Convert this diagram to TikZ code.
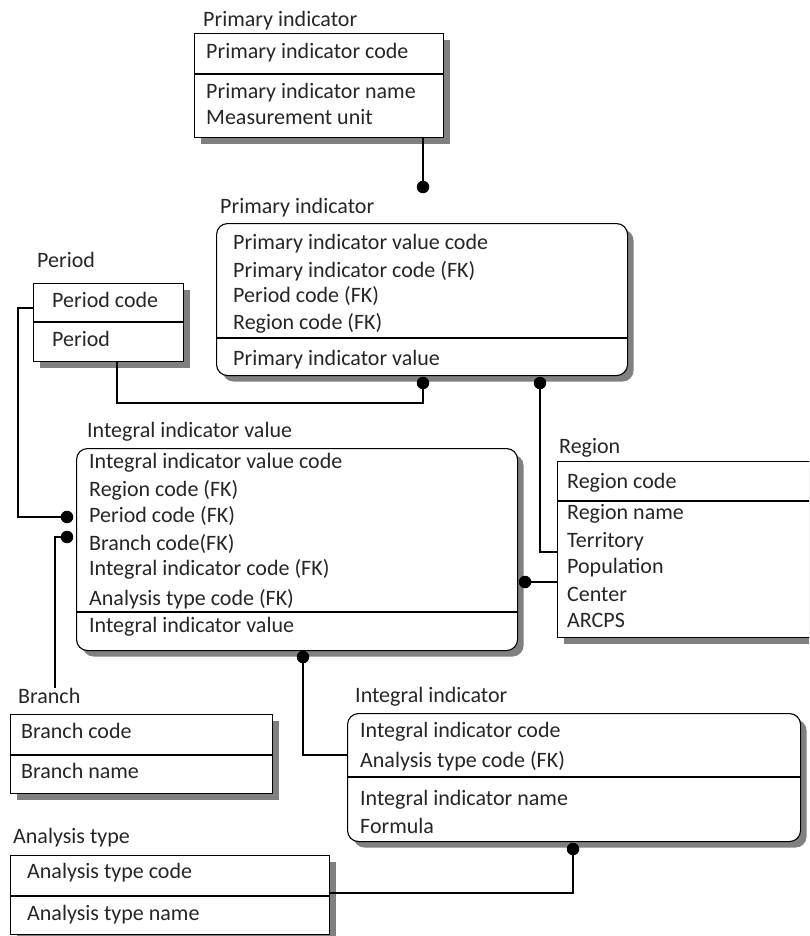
\documentclass[tikz,border=0pt]{standalone}
\usepackage{fontspec}
\setmainfont{Carlito}
\usetikzlibrary{shadows}

\tikzset{
    ent/.style={draw, line width=1.1pt, fill=white, anchor=north west, inner sep=0pt,
        drop shadow={shadow xshift=6pt, shadow yshift=-6pt, fill=black!50, opacity=1}},
    rent/.style={ent, rounded corners=11pt},
    lbl/.style={anchor=base west, inner sep=0pt, text=black!85,
        font=\fontsize{22pt}{26pt}\selectfont},
    dot/.style={circle, fill=black, inner sep=0pt, minimum size=12.5pt},
    link/.style={line width=1.1pt}
}

\begin{document}
\begin{tikzpicture}[x=1pt, y=-1pt]
    \useasboundingbox (0,0) rectangle (809,936);
    \clip (0,0) rectangle (809,936);

    \node[ent, minimum width=249pt, minimum height=104pt] (pi) at (194,33) {};
    \draw[link] (pi.west |- 0,74) -- (pi.east |- 0,74);
    \node[lbl] (pi-title) at (203,27) {Primary indicator};
    \node[lbl] (pi-code) at (206,59) {Primary indicator code};
    \node[lbl] (pi-name) at (206,99) {Primary indicator name};
    \node[lbl] (pi-unit) at (206,125) {Measurement unit};

    \node[rent, minimum width=411pt, minimum height=152pt] (piv) at (216,223) {};
    \draw[link] (piv.west |- 0,338) -- (piv.east |- 0,338);
    \node[lbl] (piv-title) at (220,213) {Primary indicator};
    \node[lbl] (piv-code) at (233,249) {Primary indicator value code};
    \node[lbl] (piv-pic) at (233,277) {Primary indicator code (FK)};
    \node[lbl] (piv-pc) at (233,302) {Period code (FK)};
    \node[lbl] (piv-rc) at (233,329) {Region code (FK)};
    \node[lbl] (piv-val) at (233,365) {Primary indicator value};

    \node[ent, minimum width=150pt, minimum height=78pt] (per) at (33,283) {};
    \draw[link] (per.west |- 0,322) -- (per.east |- 0,322);
    \node[lbl] (per-title) at (37,267) {Period};
    \node[lbl] (per-code) at (52,307) {Period code};
    \node[lbl] (per-name) at (52,346) {Period};

    \node[rent, minimum width=441pt, minimum height=202pt] (iiv) at (76,448) {};
    \draw[link] (iiv.west |- 0,612) -- (iiv.east |- 0,612);
    \node[lbl] (iiv-title) at (87,437) {Integral indicator value};
    \node[lbl] (iiv-code) at (89,468) {Integral indicator value code};
    \node[lbl] (iiv-rc) at (89,496) {Region code (FK)};
    \node[lbl] (iiv-pc) at (89,522) {Period code (FK)};
    \node[lbl] (iiv-bc) at (89,550) {Branch code(FK)};
    \node[lbl] (iiv-iic) at (89,575) {Integral indicator code (FK)};
    \node[lbl] (iiv-atc) at (89,605) {Analysis type code (FK)};
    \node[lbl] (iiv-val) at (89,632) {Integral indicator value};

    \node[ent, minimum width=275pt, minimum height=176pt] (reg) at (557,461) {};
    \draw[link] (reg.west |- 0,501) -- (reg.east |- 0,501);
    \node[lbl] (reg-title) at (559,453) {Region};
    \node[lbl] (reg-code) at (567,488) {Region code};
    \node[lbl] (reg-name) at (567,519) {Region name};
    \node[lbl] (reg-terr) at (567,547) {Territory};
    \node[lbl] (reg-pop) at (567,573) {Population};
    \node[lbl] (reg-cen) at (567,601) {Center};
    \node[lbl] (reg-arc) at (567,627) {ARCPS};

    \node[ent, minimum width=262pt, minimum height=79pt] (br) at (10,714) {};
    \draw[link] (br.west |- 0,755) -- (br.east |- 0,755);
    \node[lbl] (br-title) at (18,703) {Branch};
    \node[lbl] (br-code) at (21,738) {Branch code};
    \node[lbl] (br-name) at (21,778) {Branch name};

    \node[rent, minimum width=453pt, minimum height=128pt] (ii) at (347,713) {};
    \draw[link] (ii.west |- 0,777) -- (ii.east |- 0,777);
    \node[lbl] (ii-title) at (355,702) {Integral indicator};
    \node[lbl] (ii-code) at (360,737) {Integral indicator code};
    \node[lbl] (ii-atc) at (360,767) {Analysis type code (FK)};
    \node[lbl] (ii-name) at (360,805) {Integral indicator name};
    \node[lbl] (ii-form) at (360,833) {Formula};

    \node[ent, minimum width=319pt, minimum height=79pt] (at) at (10,855) {};
    \draw[link] (at.west |- 0,896) -- (at.east |- 0,896);
    \node[lbl] (at-title) at (13,843) {Analysis type};
    \node[lbl] (at-code) at (27,878) {Analysis type code};
    \node[lbl] (at-name) at (27,920) {Analysis type name};

    \node[dot] (d1) at (423,187) {};
    \node[dot] (d2) at (423,383) {};
    \node[dot] (d3) at (67,517) {};
    \node[dot] (d4) at (67,537) {};
    \node[dot] (d5) at (540,383) {};
    \node[dot] (d6) at (525,582) {};
    \node[dot] (d7) at (303,657) {};
    \node[dot] (d8) at (573,849) {};

    \coordinate (k1) at (117,403);
    \coordinate (k2) at (18,308);
    \coordinate (k3) at (55,688);
    \coordinate (k4) at (540,552);
    \coordinate (k5) at (303,755);
    \coordinate (k6) at (573,893);

    \draw[link] (d1 |- pi.south) -- (d1);
    \draw[link] (k1 |- per.south) -- (k1) -| (d2);
    \draw[link] (per.west |- k2) -- (k2) |- (d3);
    \draw[link] (d4) -| (k3);
    \draw[link] (d5) -- (k4) -- (k4 -| reg.west);
    \draw[link] (d6) -- (d6 -| reg.west);
    \draw[link] (d7) -- (k5) -- (k5 -| ii.west);
    \draw[link] (d8) -- (k6) -- (k6 -| at.east);
\end{tikzpicture}
\end{document}
